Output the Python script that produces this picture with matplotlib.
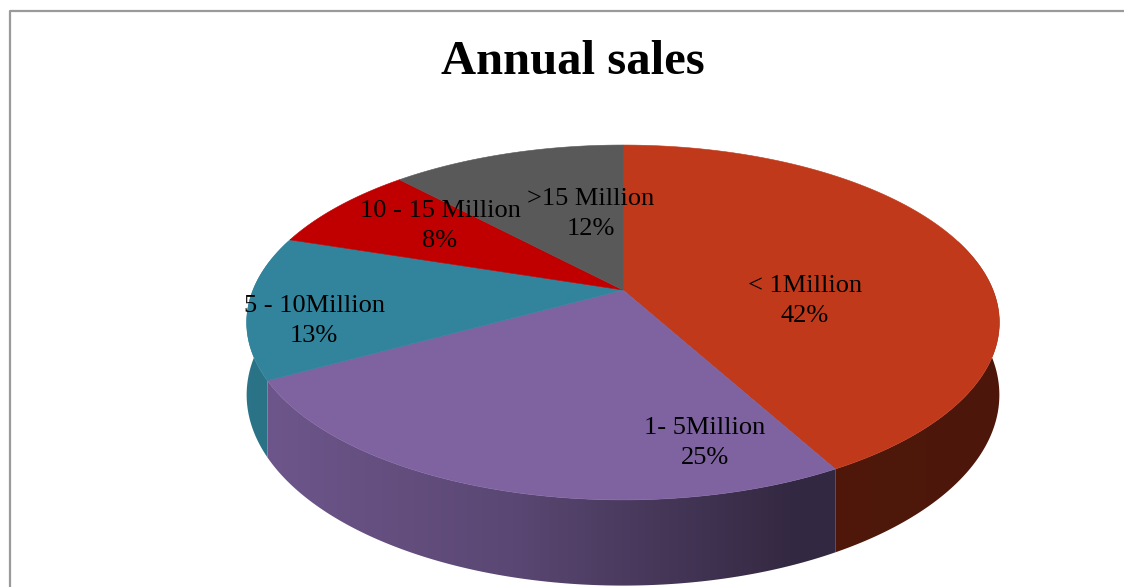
import numpy as np
import matplotlib.pyplot as plt
from matplotlib.patches import Polygon
from matplotlib.colors import to_rgb

# Slices, clockwise from 12 o'clock
labels = ['< 1Million', '1- 5Million', '5 - 10Million', '10 - 15 Million', '>15 Million']
shares = [42, 25, 13, 8, 12]
colors = ['#c0391a', '#7e63a0', '#31849b', '#c00000', '#595959']

# Where the data labels sit (pixels)
label_xy = [(805, 301), (705, 443), (314, 321), (440, 226), (591, 214)]

plt.rcParams['font.family'] = ['Liberation Serif', 'DejaVu Serif']

fig = plt.figure(figsize=(11.24, 5.87), dpi=100)
ax = fig.add_axes([0, 0, 1, 1])
ax.set_xlim(0, 1124)
ax.set_ylim(587, 0)
ax.axis('off')

# chart area border
ax.plot([10, 10, 1124], [587, 11, 11], color='#9a9a9a', lw=1.6, solid_capstyle='butt')

# tilted disc seen in perspective
cx, cy = 623, 290
rx, ry = 370, 171.5
persp = 0.183
depth = 70


def project(t, r=1.0, drop=0.0):
    u = r * np.sin(t)
    v = r * np.cos(t)
    s = 1.0 / (1.0 + persp * v)
    return cx + rx * u * s, cy + (-ry * v + drop) * s


def shade(u):
    return np.interp(u, [-1, -0.3, 0.45, 1], [0.88, 0.72, 0.41, 0.40])


fracs = np.array(shares, dtype=float) / sum(shares)
edges = np.concatenate([[0], np.cumsum(fracs)]) * 2 * np.pi

# outer wall: only the front part shows, shaded left to right
t_lo = np.arccos(0.3)
t_hi = 2 * np.pi - t_lo
gx = np.linspace(0, 1124, 1124)
for a0, a1, col in zip(edges[:-1], edges[1:], colors):
    b0, b1 = max(a0, t_lo), min(a1, t_hi)
    if b1 <= b0:
        continue
    ts = np.linspace(b0, b1, 300)
    tx, ty = project(ts)
    bx, by = project(ts[::-1], drop=depth)
    wall = Polygon(np.column_stack([np.concatenate([tx, bx]), np.concatenate([ty, by])]),
                   closed=True, facecolor='none', edgecolor='none')
    ax.add_patch(wall)
    base = np.array(to_rgb(col))
    u = np.clip((gx - cx) / (rx * 1.017), -1, 1)
    row = np.clip(base[None, :] * shade(u)[:, None], 0, 1)
    img = np.repeat(row[None, :, :], 2, axis=0)
    im = ax.imshow(img, extent=(0, 1124, 587, 0), aspect='auto', interpolation='bilinear')
    im.set_clip_path(wall)

# top faces
for a0, a1, col in zip(edges[:-1], edges[1:], colors):
    ts = np.linspace(a0, a1, 200)
    xs, ys = project(ts)
    px = np.concatenate([[cx], xs])
    py = np.concatenate([[cy], ys])
    ax.fill(px, py, facecolor=col, edgecolor=col, lw=0.4)

ax.set_xlim(0, 1124)
ax.set_ylim(587, 0)

# data labels
for (lx, ly), name, share in zip(label_xy, labels, shares):
    ax.text(lx, ly, f'{name}\n{share}%', ha='center', va='center',
            multialignment='center', fontsize=19, linespacing=1.42, color='black')

ax.text(573, 62, 'Annual sales', ha='center', va='center',
        fontsize=35, fontweight='bold', color='black')

fig.savefig('out.png', dpi=100)
